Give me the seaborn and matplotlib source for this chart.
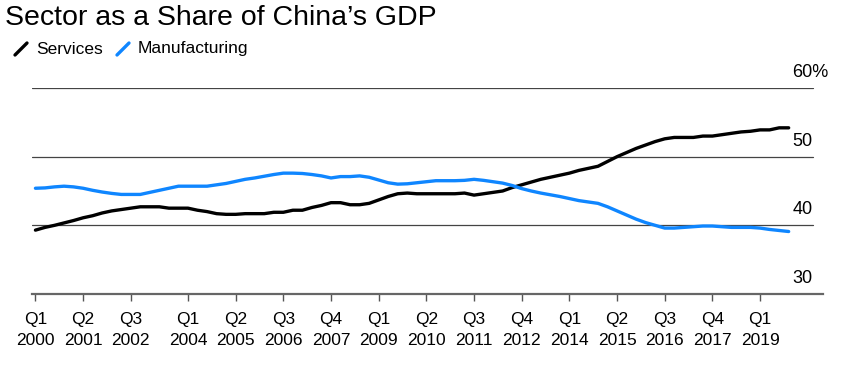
import pandas as pd
import seaborn as sns
import matplotlib.pyplot as plt
import matplotlib.transforms as mtransforms
from matplotlib.lines import Line2D

# quarterly share of GDP, Q1 2000 .. Q4 2019
services = [39.3, 39.7, 40.0, 40.35, 40.7, 41.1, 41.4, 41.8, 42.1, 42.3,
            42.5, 42.7, 42.7, 42.7, 42.5, 42.5, 42.5, 42.2, 42.0, 41.7,
            41.6, 41.6, 41.7, 41.7, 41.7, 41.9, 41.9, 42.2, 42.2, 42.6,
            42.9, 43.3, 43.3, 43.0, 43.0, 43.2, 43.7, 44.2, 44.6, 44.7,
            44.6, 44.6, 44.6, 44.6, 44.6, 44.7, 44.4, 44.6, 44.8, 45.0,
            45.5, 45.9, 46.3, 46.7, 47.0, 47.3, 47.6, 48.0, 48.3, 48.6,
            49.3, 50.0, 50.6, 51.2, 51.7, 52.2, 52.6, 52.8, 52.8, 52.8,
            53.0, 53.0, 53.2, 53.4, 53.6, 53.7, 53.9, 53.9, 54.2, 54.2]
manufacturing = [45.4, 45.45, 45.6, 45.7, 45.6, 45.4, 45.1, 44.85, 44.65, 44.5,
                 44.5, 44.5, 44.8, 45.1, 45.4, 45.7, 45.7, 45.7, 45.7, 45.9,
                 46.1, 46.4, 46.7, 46.9, 47.15, 47.4, 47.6, 47.6, 47.55, 47.4,
                 47.2, 46.9, 47.1, 47.1, 47.2, 47.0, 46.6, 46.2, 46.0, 46.05,
                 46.2, 46.35, 46.5, 46.5, 46.5, 46.55, 46.7, 46.55, 46.35, 46.15,
                 45.8, 45.35, 45.0, 44.7, 44.45, 44.2, 43.9, 43.6, 43.4, 43.2,
                 42.7, 42.1, 41.5, 40.9, 40.4, 40.0, 39.6, 39.6, 39.7, 39.8,
                 39.9, 39.9, 39.8, 39.7, 39.7, 39.7, 39.6, 39.4, 39.25, 39.1]

tick_pos = [0, 5, 10, 16, 21, 26, 31, 36, 41, 46, 51, 56, 61, 66, 71, 76]
tick_labels = ['Q1\n2000', 'Q2\n2001', 'Q3\n2002', 'Q1\n2004', 'Q2\n2005',
               'Q3\n2006', 'Q4\n2007', 'Q1\n2009', 'Q2\n2010', 'Q3\n2011',
               'Q4\n2012', 'Q1\n2014', 'Q2\n2015', 'Q3\n2016', 'Q4\n2017',
               'Q1\n2019']
y_levels = [30, 40, 50, 60]
y_labels = ['30', '40', '50', '60%']

BLUE = '#0f86ff'

df = pd.DataFrame({
    'quarter': list(range(len(services))) * 2,
    'share': services + manufacturing,
    'sector': ['Services'] * len(services) + ['Manufacturing'] * len(manufacturing),
})

sns.set_style('white')
plt.rcParams['font.family'] = ['Liberation Sans', 'DejaVu Sans']
plt.rcParams['text.color'] = 'black'

fig = plt.figure(figsize=(8.56, 3.66), dpi=100)
ax = fig.add_axes([32 / 856, 1 - 294 / 366, 791 / 856, (294 - 88) / 366])

for lvl in y_levels[1:]:
    ax.axhline(lvl, xmin=0, xmax=0.987, color='#444444', lw=0.9, zorder=1)

sns.lineplot(data=df, x='quarter', y='share', hue='sector',
             palette={'Services': 'black', 'Manufacturing': BLUE},
             linewidth=2.4, legend=False, ax=ax, zorder=3)

ax.set_xlim(-0.36, 82.6)
ax.set_ylim(30, 60)
ax.set_xlabel('')
ax.set_ylabel('')
ax.set_yticks([])
ax.set_xticks(tick_pos)
ax.set_xticklabels(tick_labels, fontsize=12.5, linespacing=1.5)
ax.tick_params(axis='x', length=5, width=1, color='#555555', pad=8,
               labelcolor='black', bottom=True)

for side in ['top', 'left', 'right']:
    ax.spines[side].set_visible(False)
ax.spines['bottom'].set_color('#666666')
ax.spines['bottom'].set_linewidth(1.6)

trans = mtransforms.blended_transform_factory(ax.transAxes, ax.transData)
for lvl, lab in zip(y_levels, y_labels):
    ax.annotate(lab, xy=(0.961, lvl), xycoords=trans, xytext=(0, 8),
                textcoords='offset points', ha='left', va='baseline',
                fontsize=13, color='black')

fig.text(5 / 856, 1 - 5 / 366, 'Sector as a Share of China\u2019s GDP',
         fontsize=20.5, ha='left', va='top')

# legend with slash markers
ly = 1 - 49 / 366
fig.add_artist(Line2D([15 / 856, 27 / 856], [1 - 55 / 366, 1 - 43 / 366],
                      color='black', lw=2.4, transform=fig.transFigure))
fig.text(36 / 856, ly, 'Services', fontsize=12.5, ha='left', va='center')
fig.add_artist(Line2D([117 / 856, 129 / 856], [1 - 55 / 366, 1 - 43 / 366],
                      color=BLUE, lw=2.4, transform=fig.transFigure))
fig.text(138 / 856, ly, 'Manufacturing', fontsize=12.5, ha='left', va='center')

fig.savefig('out.png', dpi=100)
